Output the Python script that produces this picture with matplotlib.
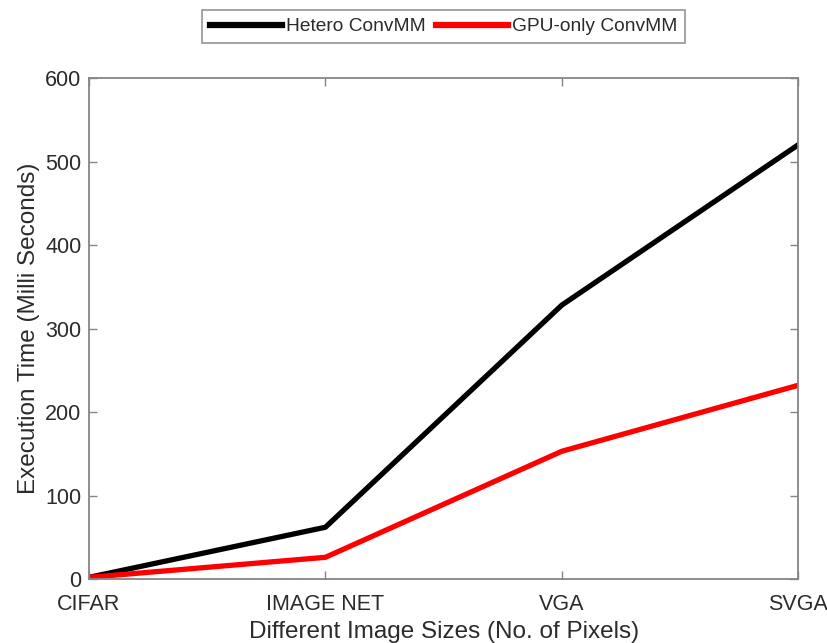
import matplotlib
matplotlib.use("Agg")
import matplotlib.pyplot as plt

plt.rcParams['font.family'] = ['Liberation Sans', 'DejaVu Sans']

sizes = ['CIFAR', 'IMAGE NET', 'VGA', 'SVGA']
hetero = [2, 62, 328, 520]
gpu_only = [2, 26, 153, 232]

fig = plt.figure(figsize=(8.28, 6.43), dpi=100)
ax = fig.add_axes([0.1075, 0.0995, 0.8565, 0.7792])

x = range(len(sizes))
ax.plot(x, hetero, color='black', lw=3.8, label='Hetero ConvMM')
ax.plot(x, gpu_only, color='red', lw=3.8, label='GPU-only ConvMM')

ax.set_xlim(0, 3)
ax.set_ylim(0, 600)
ax.set_xticks(list(x))
ax.set_xticklabels(sizes)
ax.set_yticks(range(0, 601, 100))

txt = '#2b2b2b'
for s in ax.spines.values():
    s.set_color('#858585')
    s.set_linewidth(1.3)
ax.tick_params(direction='in', top=True, right=True, length=6, width=1,
               color='#858585', labelsize=15.5, labelcolor=txt)
ax.tick_params(axis='x', pad=10.5)
ax.tick_params(axis='y', pad=5.5)

ax.set_xlabel('Different Image Sizes (No. of Pixels)', fontsize=17.5, color=txt, labelpad=4.5)
ax.set_ylabel('Execution Time (Milli Seconds)', fontsize=17.5, color=txt, labelpad=4)

leg = ax.legend(loc='center', bbox_to_anchor=(0.5, 1.1026), ncol=2, frameon=True,
                fancybox=False, fontsize=13.8, handlelength=3.75, handletextpad=0.2,
                columnspacing=0.55, borderpad=0.4)
leg.get_frame().set_edgecolor('#7a7a7a')
leg.get_frame().set_linewidth(1.2)
for t in leg.get_texts():
    t.set_color(txt)
for h in leg.get_lines():
    h.set_linewidth(4.5)

fig.savefig('out.png', dpi=100)
